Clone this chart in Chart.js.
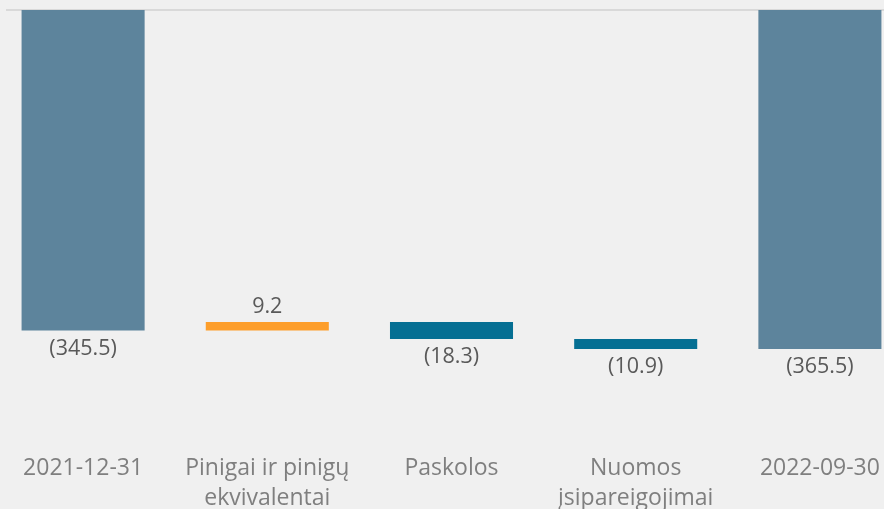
<!DOCTYPE html>
<html lang="lt">
<head>
  <meta charset="UTF-8">
  <title>Grynoji skola: pokytis</title>
  <script src="https://cdn.jsdelivr.net/npm/chart.js"></script>
  <style>
    html, body { margin: 0; padding: 0; background: #f0f0f0; overflow: hidden; }
    #bridge { position: absolute; left: -9px; top: 0; }
  </style>
</head>
<body>
  <canvas id="bridge" width="921" height="509"></canvas>
  <script>
    const categories = ['2021-12-31', ['Pinigai ir pinigų', 'ekvivalentai'], 'Paskolos', ['Nuomos', 'įsipareigojimai'], '2022-09-30'];
    const values = [-345.5, 9.2, -18.3, -10.9, -365.5];
    const isTotal = [true, false, false, false, true];

    const colTotal = '#5d849c';
    const colUp = '#fd9e2b';
    const colDown = '#056f93';

    // floating ranges: totals start at zero, changes stack on running sum
    let running = 0;
    const ranges = values.map((v, i) => {
      if (isTotal[i]) { running = v; return [0, v]; }
      const r = [running, running + v];
      running += v;
      return r;
    });
    const colors = values.map((v, i) => isTotal[i] ? colTotal : (v >= 0 ? colUp : colDown));

    const fmt = v => v < 0 ? '(' + Math.abs(v).toFixed(1) + ')' : v.toFixed(1);

    const labelPlugin = {
      id: 'bridgeLabels',
      beforeDatasetsDraw(chart) {
        const { ctx, chartArea, scales } = chart;
        const y0 = scales.y.getPixelForValue(0);
        ctx.save();
        ctx.strokeStyle = '#d9d9d9';
        ctx.lineWidth = 2;
        ctx.beginPath();
        ctx.moveTo(chartArea.left + 15, y0);
        ctx.lineTo(chartArea.right, y0);
        ctx.stroke();
        ctx.restore();
      },
      afterDatasetsDraw(chart) {
        const { ctx } = chart;
        const meta = chart.getDatasetMeta(0);
        ctx.save();
        ctx.font = '21.5px "Open Sans"';
        ctx.fillStyle = '#595959';
        ctx.textAlign = 'center';
        ctx.textBaseline = 'middle';
        meta.data.forEach((bar, i) => {
          const v = values[i];
          const top = Math.min(bar.y, bar.base);
          const bottom = Math.max(bar.y, bar.base);
          const y = v >= 0 ? top - 15 : bottom + 18;
          ctx.fillText(fmt(v), bar.x, y);
        });
        ctx.restore();
      }
    };

    const chart = new Chart(document.getElementById('bridge'), {
      type: 'bar',
      data: {
        labels: categories,
        datasets: [{
          data: ranges,
          backgroundColor: colors,
          borderWidth: 0,
          borderSkipped: false,
          barPercentage: 0.668,
          categoryPercentage: 1
        }]
      },
      options: {
        responsive: false,
        animation: false,
        layout: { padding: { top: 10, bottom: 0, left: 0, right: 0 } },
        plugins: { legend: { display: false }, tooltip: { enabled: false } },
        scales: {
          x: {
            grid: { display: false, drawTicks: false },
            border: { display: false },
            ticks: {
              padding: 7,
              color: '#7f7f7f',
              font: { family: '"Open Sans"', size: 23, lineHeight: 1.32 },
              maxRotation: 0,
              autoSkip: false
            },
            afterFit(scale) {
              scale.height = 63;
              scale.paddingLeft = 0;
              scale.paddingRight = 0;
            }
          },
          y: {
            display: false,
            min: -470,
            max: 0
          }
        }
      },
      plugins: [labelPlugin]
    });
  </script>
</body>
</html>
